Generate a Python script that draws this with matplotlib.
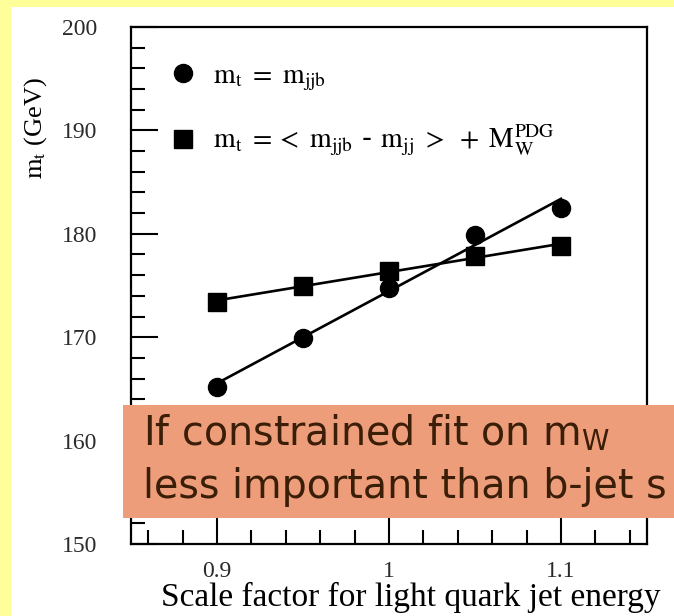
import numpy as np
import matplotlib
matplotlib.use("Agg")
import matplotlib.pyplot as plt
from matplotlib.patches import Rectangle
from matplotlib.lines import Line2D
from matplotlib.ticker import MultipleLocator

plt.rcParams['mathtext.fontset'] = 'stix'

# light-quark jet energy scale factor vs reconstructed top mass
scale = [0.90, 0.95, 1.00, 1.05, 1.10]
mt_jjb = [165.2, 169.9, 174.8, 179.9, 182.5]
mt_diff = [173.4, 175.0, 176.4, 177.9, 178.8]

lab_jjb = r'$\mathrm{m_t\ =\ m_{jjb}}$'
lab_diff = r'$\mathrm{m_t\ = <\ m_{jjb}}$ - $\mathrm{m_{jj}\ >\ +\ M_W^{PDG}}$'

W, H = 674, 616
fig = plt.figure(figsize=(W / 100, H / 100), dpi=100, facecolor='#FFFF99')

# white slide panel
fig.add_artist(Rectangle((11 / W, 0), 1, 1 - 7 / H, transform=fig.transFigure,
                         facecolor='white', edgecolor='none', zorder=0))

ax = fig.add_axes([131 / W, 72 / H, 516 / W, 517 / H])
ax.set_facecolor('white')

# straight-line fits through each set of points
xs = np.array(scale)
for vals in (mt_jjb, mt_diff):
    p = np.polyfit(xs, vals, 1)
    ax.plot([xs[0], xs[-1]], np.polyval(p, [xs[0], xs[-1]]), color='black', lw=1.9, zorder=2)

ax.plot(scale, mt_jjb, 'o', color='black', ms=13, zorder=3)
ax.plot(scale, mt_diff, 's', color='black', ms=12.5, zorder=4)

ax.set_xlim(0.85, 1.15)
ax.set_ylim(150, 200)
ax.xaxis.set_minor_locator(MultipleLocator(0.02))
ax.yaxis.set_major_locator(MultipleLocator(10))
ax.yaxis.set_minor_locator(MultipleLocator(2))
ax.set_xticks([0.9, 1.0, 1.1])
ax.set_xticklabels(['0.9', '1', '1.1'])

ax.tick_params(which='both', direction='in', width=1.5, color='black',
               top=False, right=False, labelcolor='#2a2a2a')
ax.tick_params(which='major', length=19.5)
ax.tick_params(which='minor', length=10)
ax.tick_params(axis='x', which='major', pad=12)
ax.tick_params(axis='y', which='major', pad=24)
for lbl in ax.get_xticklabels() + ax.get_yticklabels():
    lbl.set_fontfamily('Liberation Serif')
    lbl.set_fontsize(17)
for sp in ax.spines.values():
    sp.set_linewidth(1.6)

handles = [Line2D([], [], ls='none', marker='o', color='black', ms=13),
           Line2D([], [], ls='none', marker='s', color='black', ms=12.5)]
ax.legend(handles, [lab_jjb, lab_diff], loc='upper left',
          bbox_to_anchor=(0.08, 0.935), frameon=False, fontsize=20,
          handlelength=0.8, handletextpad=0.65, labelspacing=1.1,
          borderpad=0, borderaxespad=0)

fig.text(411 / W, 1 - 597 / H, 'Scale factor for light quark jet energy',
         family='Liberation Serif', fontsize=24, ha='center', va='center')
fig.text(36 / W, 1 - 128 / H, r'$\mathrm{m_t}$ (GeV)', family='Liberation Serif',
         fontsize=19, rotation=90, ha='center', va='center')

# annotation box over the lower part of the plot
fig.add_artist(Rectangle((123 / W, 1 - 518 / H), 1, (518 - 405) / H,
                         transform=fig.transFigure, facecolor='#EE9D7A',
                         edgecolor='none', zorder=5))
fig.text(143 / W, 1 - 446 / H, r'If constrained fit on m$_\mathregular{W}$',
         family='DejaVu Sans', fontsize=28.5, color='#3A1E08', va='baseline', zorder=6)
fig.text(143 / W, 1 - 498 / H, 'less important than b-jet s',
         family='DejaVu Sans', fontsize=28.5, color='#3A1E08', va='baseline', zorder=6)

fig.savefig('out.png', dpi=100, facecolor=fig.get_facecolor())
